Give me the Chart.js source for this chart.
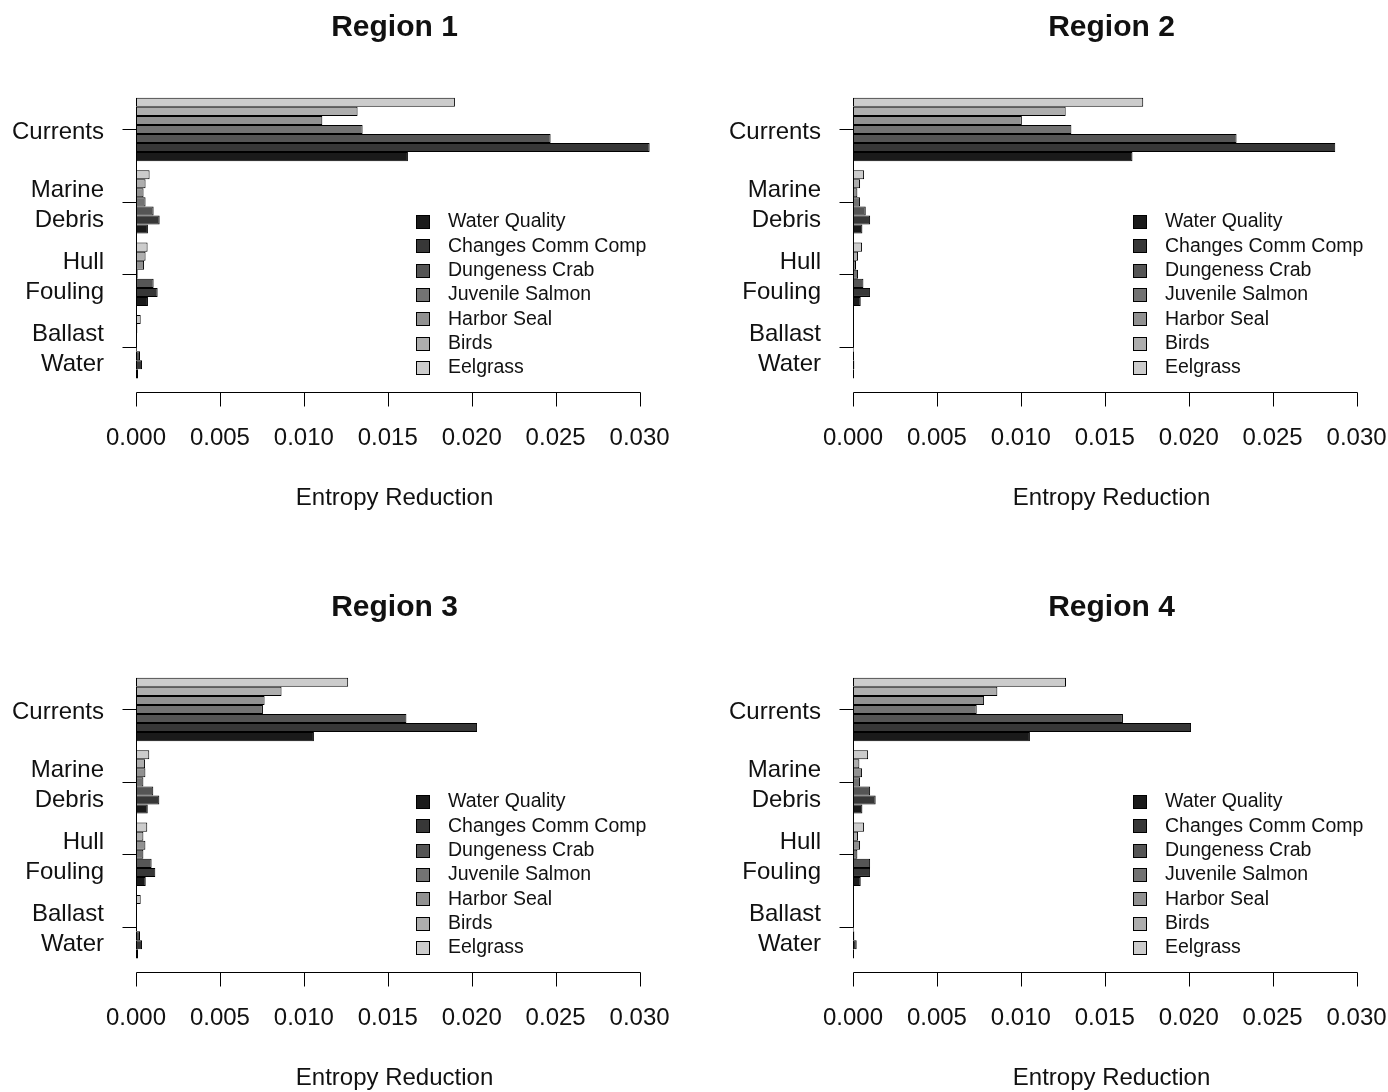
<!DOCTYPE html>
<html><head><meta charset="utf-8">
<script src="https://cdn.jsdelivr.net/npm/chart.js@4.4.1/dist/chart.umd.min.js"></script>
<style>
html,body{margin:0;padding:0;background:#fff;overflow:hidden;}
#wrap{position:relative;width:1388px;height:1092px;overflow:hidden;background:#fff;}
canvas{position:absolute;}
</style></head><body>
<div id="wrap">
<canvas id="c1" width="694" height="580" style="left:0px;top:0px"></canvas>
<canvas id="c2" width="694" height="580" style="left:717px;top:0px"></canvas>
<canvas id="c3" width="694" height="580" style="left:0px;top:580px"></canvas>
<canvas id="c4" width="694" height="580" style="left:717px;top:580px"></canvas>
</div>
<script>
// ---- data ----
const categories = ["Currents", "Marine Debris", "Hull Fouling", "Ballast Water"];
const categoryLines = [["Currents"], ["Marine", "Debris"], ["Hull", "Fouling"], ["Ballast", "Water"]];
const categoryPositions = [28.5, 20.5, 12.5, 4.5];
const seriesNames = ["Water Quality", "Changes Comm Comp", "Dungeness Crab", "Juvenile Salmon", "Harbor Seal", "Birds", "Eelgrass"];
const seriesColors = ["#1a1a1a", "#373737", "#555555", "#737373", "#919191", "#aeaeae", "#cccccc"];
const xTicks = [0, 0.005, 0.010, 0.015, 0.020, 0.025, 0.030];
const regionTitles = ["Region 1", "Region 2", "Region 3", "Region 4"];
const axisTitle = "Entropy Reduction";

// values in category order: Currents, Marine Debris, Hull Fouling, Ballast Water
const r1WaterQuality = [0.0162, 0.00071, 0.00071, 0.00012];
const r1ChangesComm  = [0.0306, 0.00141, 0.00129, 0.00036];
const r1Dungeness    = [0.0247, 0.00105, 0.00105, 0.00024];
const r1Juvenile     = [0.0135, 0.00057, 0.00010, 0.00005];
const r1HarborSeal   = [0.0111, 0.00045, 0.00048, 0.00005];
const r1Birds        = [0.0132, 0.00057, 0.00057, 0.00008];
const r1Eelgrass     = [0.0190, 0.00081, 0.00069, 0.00028];

const r2WaterQuality = [0.01665, 0.00056, 0.00046, 0.00006];
const r2ChangesComm  = [0.02873, 0.00102, 0.00102, 0.00008];
const r2Dungeness    = [0.02285, 0.00076, 0.00062, 0.00006];
const r2Juvenile     = [0.01301, 0.00042, 0.00030, 0.00004];
const r2HarborSeal   = [0.01006, 0.00026, 0.00018, 0.00004];
const r2Birds        = [0.01267, 0.00042, 0.00030, 0.00004];
const r2Eelgrass     = [0.01729, 0.00066, 0.00054, 0.00006];

const r3WaterQuality = [0.01060, 0.00070, 0.00058, 0.00012];
const r3ChangesComm  = [0.02032, 0.00139, 0.00115, 0.00036];
const r3Dungeness    = [0.01611, 0.00103, 0.00093, 0.00024];
const r3Juvenile     = [0.00756, 0.00044, 0.00044, 0.00006];
const r3HarborSeal   = [0.00766, 0.00056, 0.00056, 0.00006];
const r3Birds        = [0.00867, 0.00054, 0.00044, 0.00006];
const r3Eelgrass     = [0.01264, 0.00079, 0.00067, 0.00028];

const r4WaterQuality = [0.01054, 0.00056, 0.00046, 0.00006];
const r4ChangesComm  = [0.02014, 0.00135, 0.00102, 0.00022];
const r4Dungeness    = [0.01608, 0.00102, 0.00102, 0.00008];
const r4Juvenile     = [0.00737, 0.00042, 0.00026, 0.00004];
const r4HarborSeal   = [0.00781, 0.00054, 0.00042, 0.00004];
const r4Birds        = [0.00860, 0.00038, 0.00030, 0.00004];
const r4Eelgrass     = [0.01269, 0.00090, 0.00066, 0.00006];

const regionSeries = [
  [r1WaterQuality, r1ChangesComm, r1Dungeness, r1Juvenile, r1HarborSeal, r1Birds, r1Eelgrass],
  [r2WaterQuality, r2ChangesComm, r2Dungeness, r2Juvenile, r2HarborSeal, r2Birds, r2Eelgrass],
  [r3WaterQuality, r3ChangesComm, r3Dungeness, r3Juvenile, r3HarborSeal, r3Birds, r3Eelgrass],
  [r4WaterQuality, r4ChangesComm, r4Dungeness, r4Juvenile, r4HarborSeal, r4Birds, r4Eelgrass]
];

// ---- rendering ----
const FONT = '"Liberation Sans", Arial, Helvetica, sans-serif';
const TEXT = '#111';
const AREA = { left: 136, right: 653, top: 86, bottom: 392 };

const decorPlugin = {
  id: 'decor',
  afterDraw(chart, args, opts) {
    const ctx = chart.ctx, xs = chart.scales.x, ys = chart.scales.y, ca = chart.chartArea;
    ctx.save();
    ctx.strokeStyle = '#000';
    ctx.lineWidth = 1;
    // x axis line + ticks
    const yA = Math.round(ca.bottom) + 0.5;
    const xa = Math.round(xs.getPixelForValue(xTicks[0])) + 0.5;
    const xb = Math.round(xs.getPixelForValue(xTicks[xTicks.length - 1])) + 0.5;
    ctx.beginPath();
    ctx.moveTo(xa, yA); ctx.lineTo(xb, yA);
    xTicks.forEach(v => {
      const px = Math.round(xs.getPixelForValue(v)) + 0.5;
      ctx.moveTo(px, yA); ctx.lineTo(px, yA + 14);
    });
    ctx.stroke();
    // y axis line + ticks
    const x0 = Math.round(xs.getPixelForValue(0)) + 0.5;
    const yT = Math.round(ys.getPixelForValue(Math.max(...categoryPositions))) + 0.5;
    const yB = Math.round(ys.getPixelForValue(Math.min(...categoryPositions))) + 0.5;
    ctx.beginPath();
    ctx.moveTo(x0, yT); ctx.lineTo(x0, yB);
    categoryPositions.forEach(p => {
      const py = Math.round(ys.getPixelForValue(p)) + 0.5;
      ctx.moveTo(x0 - 14, py); ctx.lineTo(x0, py);
    });
    ctx.stroke();
    // titles
    const cx = (ca.left + ca.right) / 2;
    ctx.fillStyle = TEXT;
    ctx.textAlign = 'center';
    ctx.textBaseline = 'middle';
    ctx.font = 'bold 30px ' + FONT;
    ctx.fillText(opts.title, cx, 28);
    ctx.font = '24px ' + FONT;
    ctx.fillText(axisTitle, cx, 498);
    // legend (inside plot)
    ctx.font = '19.5px ' + FONT;
    ctx.textAlign = 'left';
    seriesNames.forEach((name, i) => {
      const y = 222 + i * 24.3;
      ctx.fillStyle = seriesColors[i];
      ctx.fillRect(416, Math.round(y - 7), 14, 14);
      ctx.strokeRect(416.5, Math.round(y - 7) + 0.5, 13, 13);
      ctx.fillStyle = TEXT;
      ctx.fillText(name, 448, y);
    });
    ctx.restore();
  }
};

function makeChart(id, r) {
  const series = regionSeries[r];
  // R draws first series at bottom of each group; Chart.js draws dataset 0 on top
  const datasets = [];
  for (let s = seriesNames.length - 1; s >= 0; s--) {
    datasets.push({
      label: seriesNames[s],
      data: series[s].map((v, k) => ({ x: v, y: categoryPositions[k] })),
      backgroundColor: seriesColors[s],
      borderColor: '#000',
      borderWidth: 1,
      borderSkipped: false,
      categoryPercentage: 0.875,
      barPercentage: 1.0
    });
  }
  const chart = new Chart(document.getElementById(id), {
    type: 'bar',
    data: { datasets },
    plugins: [decorPlugin],
    options: {
      indexAxis: 'y',
      responsive: false,
      animation: false,
      devicePixelRatio: 1,
      layout: { padding: { top: 70, right: 24, left: 0, bottom: 0 } },
      plugins: {
        legend: { display: false },
        tooltip: { enabled: false },
        title: { display: false },
        decor: { title: regionTitles[r] }
      },
      scales: {
        x: {
          type: 'linear',
          position: 'bottom',
          offset: false,
          min: 0,
          max: 0.0308,
          grid: { display: false, drawTicks: true, tickLength: 32 },
          border: { display: false },
          afterBuildTicks: sc => { sc.ticks = xTicks.map(v => ({ value: v })); },
          afterFit: sc => { sc.height = 188; },
          ticks: {
            autoSkip: false,
            maxRotation: 0,
            padding: 0,
            color: TEXT,
            font: { family: FONT, size: 24 },
            callback: v => Number(v).toFixed(3)
          }
        },
        y: {
          type: 'linear',
          position: 'left',
          offset: false,
          min: -0.5,
          max: 33.3,
          grid: { display: false, drawTicks: true, tickLength: 32 },
          border: { display: false },
          afterBuildTicks: sc => { sc.ticks = categoryPositions.slice().sort((a, b) => a - b).map(v => ({ value: v })); },
          afterFit: sc => { sc.width = 136; },
          ticks: {
            autoSkip: false,
            padding: 0,
            labelOffset: 3,
            color: TEXT,
            font: { family: FONT, size: 24, lineHeight: 1.25 },
            callback: v => categoryLines[categoryPositions.indexOf(v)]
          }
        }
      }
    }
  });
  // nudge layout padding so the plotting area lands where the reference has it
  for (let it = 0; it < 5; it++) {
    const ca = chart.chartArea;
    const p = chart.options.layout.padding;
    const np = {
      top: Math.max(0, p.top + (AREA.top - ca.top)),
      right: Math.max(0, p.right + (ca.right - AREA.right)),
      left: Math.max(0, p.left + (AREA.left - ca.left)),
      bottom: Math.max(0, p.bottom + (ca.bottom - AREA.bottom))
    };
    if (Math.abs(np.top - p.top) < 0.2 && Math.abs(np.right - p.right) < 0.2 &&
        Math.abs(np.left - p.left) < 0.2 && Math.abs(np.bottom - p.bottom) < 0.2) break;
    chart.options.layout.padding = np;
    chart.update();
  }
  return chart;
}

makeChart('c1', 0);
makeChart('c2', 1);
makeChart('c3', 2);
makeChart('c4', 3);
</script>
</body></html>
